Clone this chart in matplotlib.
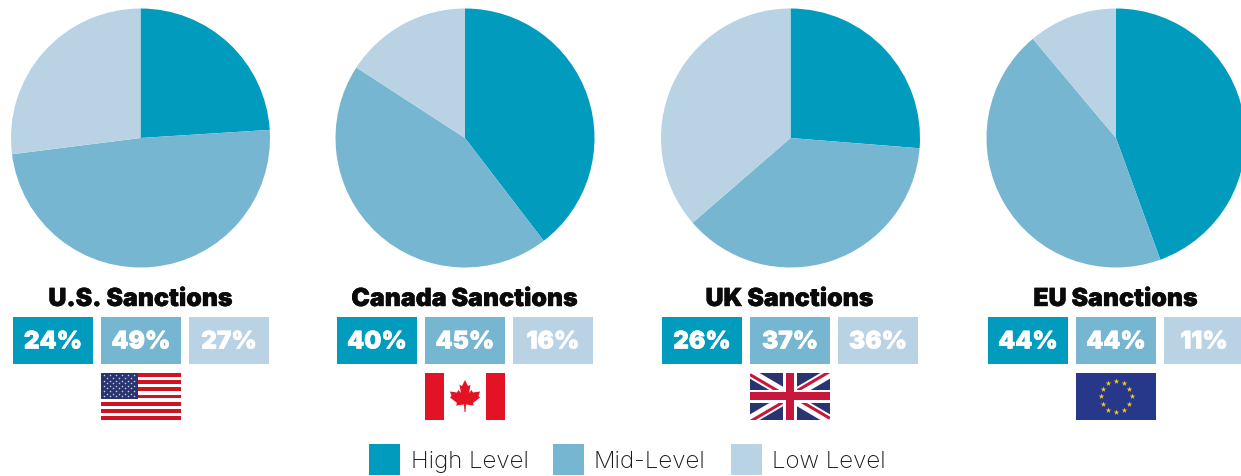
import matplotlib
matplotlib.use("Agg")
import matplotlib.pyplot as plt
import matplotlib.patheffects as pe
from matplotlib.patches import Rectangle, Polygon
import numpy as np

W, H = 1241, 477

regions = ["U.S. Sanctions", "Canada Sanctions", "UK Sanctions", "EU Sanctions"]
levels = ["High Level", "Mid-Level", "Low Level"]
high = [24, 40, 26, 44]
mid = [49, 45, 37, 44]
low = [27, 16, 36, 11]

colors = ["#009bbd", "#77b6d1", "#b9d3e5"]
centers = [140.5, 465, 790.5, 1116]
radius = [129.5, 129.5, 129.5, 129.5]
cy = 139
box_mid = [141, 465, 790, 1116]

NAVY = "#2a3470"
RED = "#e31225"
BLUE_EU = "#27388a"

fig = plt.figure(figsize=(W / 100, H / 100), dpi=100)

# everything that is not a pie is placed in pixels on this axes
page = fig.add_axes([0, 0, 1, 1])
page.set_xlim(0, W)
page.set_ylim(H - 1, -1)
page.axis("off")


def flag_us(x, y):
    page.add_patch(Rectangle((x, y), 80, 47, fc="white", lw=0))
    for i in range(0, 13, 2):
        page.add_patch(Rectangle((x, y + i * 47 / 13), 80, 47 / 13, fc="#cf1322", lw=0))
    page.add_patch(Rectangle((x, y), 37, 26, fc=NAVY, lw=0))
    for r in range(9):
        n = 6 if r % 2 == 0 else 5
        off = 3 if r % 2 == 0 else 6
        xs = [x + off + j * 6 for j in range(n)]
        page.scatter(xs, [y + 2.5 + r * 2.6] * n, s=1.3, c="#c9cde0", lw=0, zorder=3)


def flag_canada(x, y):
    page.add_patch(Rectangle((x, y), 19, 47, fc=RED, lw=0))
    page.add_patch(Rectangle((x + 61, y), 19, 47, fc=RED, lw=0))
    leaf = np.array([[0, -15], [-3, -9], [-5.5, -10], [-4, -2], [-6.5, -5], [-8, -2.5], [-15, -3.5],
                     [-13.5, 1], [-15, 2.5], [-8, 8], [-9, 10.5], [-1, 9.5], [-0.5, 17], [0.5, 17],
                     [1, 9.5], [9, 10.5], [8, 8], [15, 2.5], [13.5, 1], [15, -3.5], [8, -2.5],
                     [6.5, -5], [4, -2], [5.5, -10], [3, -9]])
    page.add_patch(Polygon(leaf + [x + 40, y + 22], fc=RED, lw=0))


def flag_uk(x, y):
    clip = Rectangle((x, y), 80, 47, fc=NAVY, lw=0, zorder=1)
    page.add_patch(clip)
    cx, cc = x + 40, y + 23.5
    # four arms of the saltire, red stripe set off to one side
    arms = [((x, y), 1.6), ((x + 80, y), -1.6), ((x + 80, y + 47), -1.6), ((x, y + 47), 1.6)]
    for (ex, ey), off in arms:
        l1, = page.plot([ex, cx], [ey, cc], color="white", lw=7, solid_capstyle="butt", zorder=1.1)
        l2, = page.plot([ex, cx], [ey + off, cc + off], color="#c8173c", lw=2.2, solid_capstyle="butt", zorder=1.2)
        l1.set_clip_path(clip)
        l2.set_clip_path(clip)
    page.add_patch(Rectangle((x + 33, y), 14, 47, fc="white", lw=0, zorder=1.3))
    page.add_patch(Rectangle((x, y + 17), 80, 13, fc="white", lw=0, zorder=1.3))
    page.add_patch(Rectangle((x + 36, y), 8, 47, fc="#c8173c", lw=0, zorder=1.4))
    page.add_patch(Rectangle((x, y + 19.5), 80, 8, fc="#c8173c", lw=0, zorder=1.4))


def flag_eu(x, y):
    page.add_patch(Rectangle((x, y), 80, 47, fc=BLUE_EU, lw=0))
    ang = np.arange(12) * np.pi / 6
    page.scatter(x + 40 + 15.5 * np.sin(ang), y + 23.5 - 15.5 * np.cos(ang), marker="*", s=18,
                 c="#f2c81e", lw=0, zorder=3)


flags = [flag_us, flag_canada, flag_uk, flag_eu]

for i, name in enumerate(regions):
    # pie
    r = radius[i]
    ax = fig.add_axes([(centers[i] - r) / W, 1 - (cy + r) / H, 2 * r / W, 2 * r / H])
    ax.pie([high[i], mid[i], low[i]], colors=colors, startangle=90, counterclock=False, radius=1,
           wedgeprops={"linewidth": 0})
    ax.set_xlim(-1, 1)
    ax.set_ylim(-1, 1)

    t = page.text(box_mid[i] - 0.5, 299.5, name, ha="center", va="center", fontsize=17.9, fontweight="black",
                  family="Inter", color="#0a0a0a")
    t.set_path_effects([pe.withStroke(linewidth=0.3, foreground="#0a0a0a")])

    # value boxes
    vals = [high[i], mid[i], low[i]]
    for j, v in enumerate(vals):
        x0 = box_mid[i] - 128 + j * 88
        page.add_patch(Rectangle((x0, 317), 80, 47, fc=colors[j], lw=0))
        t = page.text(x0 + 40, 342, "%d%%" % v, ha="center", va="center", fontsize=17.5,
                      fontweight="black", family="Inter", color="white")
        t.set_path_effects([pe.withStroke(linewidth=0.4, foreground="white")])

    flags[i](box_mid[i] - 40, 373)

# legend
leg_x = [369, 553, 731]
txt_x = [411, 594, 772]
for j, lab in enumerate(levels):
    page.add_patch(Rectangle((leg_x[j], 444), 31, 31, fc=colors[j], lw=0))
    page.text(txt_x[j], 461, lab, ha="left", va="center", fontsize=17.3, fontweight="light",
              family="Inter", color="#1a1a1a")

fig.savefig("out.png", dpi=100)
